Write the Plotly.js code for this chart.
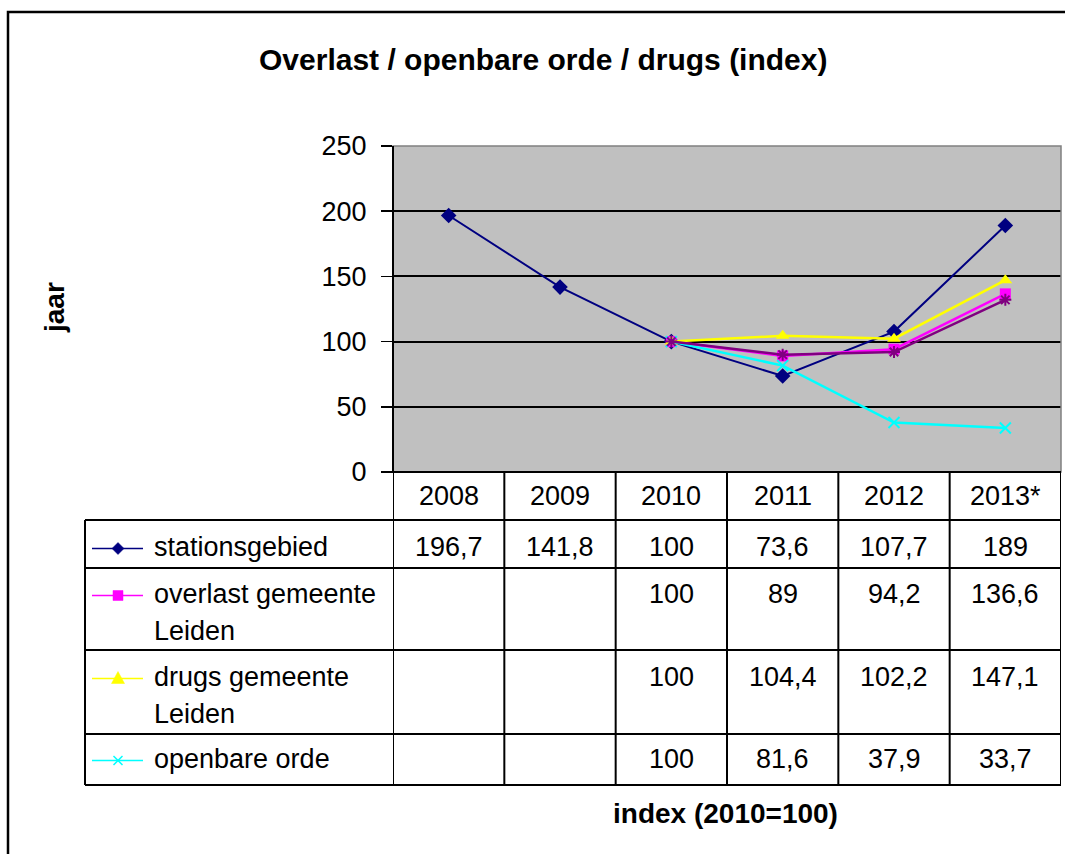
<!DOCTYPE html>
<html>
<head>
<meta charset="utf-8">
<script src="https://cdn.plot.ly/plotly-3.0.1.min.js"></script>
<style>html,body{margin:0;padding:0;background:#fff;}#chart{width:1065px;height:854px;}</style>
</head>
<body>
<div id="chart"></div>
<script>
// ---- data ----
const years = ['2008', '2009', '2010', '2011', '2012', '2013*'];
const stationsgebied = [196.7, 141.8, 100, 73.6, 107.7, 189];
const overlastGemeenteLeiden = [null, null, 100, 89, 94.2, 136.6];
const drugsGemeenteLeiden = [null, null, 100, 104.4, 102.2, 147.1];
const openbareOrde = [null, null, 100, 81.6, 37.9, 33.7];
const extraSeries = [null, null, 100, 90, 92, 132]; // purple series drawn in plot, not in table
const seriesNames = ['stationsgebied', 'overlast gemeente\nLeiden', 'drugs gemeente\nLeiden', 'openbare orde'];
const yTicks = [0, 50, 100, 150, 200, 250];

// ---- geometry helpers (pixels -> paper) ----
const W = 1065, H = 854;
const X = p => p / W;
const Y = p => 1 - p / H;
const FONT = 'Liberation Sans, Arial, sans-serif';

const plotL = 393, plotR = 1061, plotT = 146, plotB = 472;
const tableL = 85, headerB = 520;
const rowTops = [520, 568, 650, 734];
const rowBots = [568, 650, 734, 785];
const rowLine1 = [547, 594, 677, 759];
const lineGap = 36.5;

const styles = [
  {color: '#000080', symbol: 'diamond', size: 12, lw: 2},
  {color: '#FF00FF', symbol: 'square', size: 11, lw: 2.5},
  {color: '#FFFF00', symbol: 'triangle-up', size: 12, lw: 2.5},
  {color: '#00FFFF', symbol: 'x-thin-open', size: 11, lw: 2.5}
];
const seriesData = [stationsgebied, overlastGemeenteLeiden, drugsGemeenteLeiden, openbareOrde];

const traces = seriesData.map((d, i) => ({
  type: 'scatter', mode: 'lines+markers', x: years, y: d,
  name: seriesNames[i].replace('\n', ' '),
  line: {color: styles[i].color, width: styles[i].lw},
  marker: {symbol: styles[i].symbol, size: styles[i].size, color: styles[i].color,
           line: {color: styles[i].color, width: styles[i].symbol.indexOf('open') >= 0 ? 2 : 0}},
  showlegend: false, hoverinfo: 'x+y'
}));
traces.push({
  type: 'scatter', mode: 'lines+markers', x: years, y: extraSeries, name: 'extra',
  line: {color: '#800080', width: 2.5},
  marker: {symbol: 'asterisk-open', size: 10, color: '#800080', line: {color: '#800080', width: 2}},
  showlegend: false
});

// ---- shapes ----
const shapes = [];
const blk = {color: '#000', width: 2};
// outer frame
shapes.push({type: 'rect', xref: 'paper', yref: 'paper', x0: X(8), x1: X(1075), y0: Y(870), y1: Y(12),
  line: {color: '#000', width: 2.5}, fillcolor: 'rgba(0,0,0,0)'});
// plot area border (gray)
shapes.push({type: 'rect', xref: 'paper', yref: 'paper', x0: X(plotL), x1: X(plotR), y0: Y(plotB), y1: Y(plotT),
  line: {color: '#808080', width: 1.5}, fillcolor: 'rgba(0,0,0,0)', layer: 'above'});
// y axis line
shapes.push({type: 'line', xref: 'paper', yref: 'paper', x0: X(plotL), x1: X(plotL), y0: Y(plotB), y1: Y(plotT), line: blk});
// table horizontal lines
shapes.push({type: 'line', xref: 'paper', yref: 'paper', x0: X(382), x1: X(plotR), y0: Y(plotB), y1: Y(plotB), line: blk});
[headerB].concat(rowBots).forEach(yy => {
  shapes.push({type: 'line', xref: 'paper', yref: 'paper', x0: X(tableL), x1: X(plotR), y0: Y(yy), y1: Y(yy), line: blk});
});
// table vertical lines: column boundaries from the category axis
for (let k = 0; k <= years.length; k++) {
  shapes.push({type: 'line', xref: 'x', yref: 'paper', x0: k - 0.5, x1: k - 0.5, y0: Y(plotB), y1: Y(785), line: blk});
}
shapes.push({type: 'line', xref: 'paper', yref: 'paper', x0: X(tableL), x1: X(tableL), y0: Y(headerB), y1: Y(785), line: blk});

// legend samples
const pathPx = pts => 'M' + pts.map(p => X(p[0]) + ',' + Y(p[1])).join(' L') + ' Z';
const mx = 118;
styles.forEach((s, i) => {
  const cy = rowLine1[i] + 1.5;
  shapes.push({type: 'line', xref: 'paper', yref: 'paper', x0: X(92), x1: X(143), y0: Y(cy), y1: Y(cy),
    line: {color: s.color, width: 1.5}});
  let p;
  if (s.symbol === 'diamond') {
    const h = 6;
    p = pathPx([[mx, cy - h], [mx + h, cy], [mx, cy + h], [mx - h, cy]]);
    shapes.push({type: 'path', xref: 'paper', yref: 'paper', path: p, fillcolor: s.color, line: {color: s.color, width: 0.5}});
  } else if (s.symbol === 'square') {
    const h = 5;
    p = pathPx([[mx - h, cy - h], [mx + h, cy - h], [mx + h, cy + h], [mx - h, cy + h]]);
    shapes.push({type: 'path', xref: 'paper', yref: 'paper', path: p, fillcolor: s.color, line: {color: s.color, width: 0.5}});
  } else if (s.symbol === 'triangle-up') {
    p = pathPx([[mx, cy - 7], [mx + 6.5, cy + 5], [mx - 6.5, cy + 5]]);
    shapes.push({type: 'path', xref: 'paper', yref: 'paper', path: p, fillcolor: s.color, line: {color: s.color, width: 0.5}});
  } else {
    const h = 4.5;
    shapes.push({type: 'line', xref: 'paper', yref: 'paper', x0: X(mx - h), x1: X(mx + h), y0: Y(cy - h), y1: Y(cy + h), line: {color: s.color, width: 1.5}});
    shapes.push({type: 'line', xref: 'paper', yref: 'paper', x0: X(mx - h), x1: X(mx + h), y0: Y(cy + h), y1: Y(cy - h), line: {color: s.color, width: 1.5}});
  }
});

// ---- annotations ----
const ann = [];
const txt = (text, x, y, opts) => Object.assign({text: text, x: x, y: y, xref: 'paper', yref: 'paper',
  showarrow: false, xanchor: 'center', yanchor: 'middle', font: {family: FONT, size: 27, color: '#000'}}, opts || {});
ann.push(txt('<b>Overlast / openbare orde / drugs (index)</b>', X(543), Y(60), {font: {family: FONT, size: 30, color: '#000'}}));
ann.push(txt('<b>jaar</b>', X(55), Y(308), {textangle: -90, font: {family: FONT, size: 28, color: '#000'}}));
ann.push(txt('<b>index (2010=100)</b>', X(725), Y(813), {font: {family: FONT, size: 28, color: '#000'}}));
// header row (category index positions on the x axis)
years.forEach((yr, k) => ann.push(txt(yr, k, Y(496), {xref: 'x'})));
// legend labels and values
seriesNames.forEach((nm, i) => {
  nm.split('\n').forEach((ln, j) => {
    ann.push(txt(ln, X(152), Y(rowLine1[i] + j * lineGap), {xanchor: 'left'}));
  });
  seriesData[i].forEach((v, k) => {
    if (v === null) return;
    ann.push(txt(String(v).replace('.', ','), k, Y(rowLine1[i]), {xref: 'x'}));
  });
});

const layout = {
  width: W, height: H,
  margin: {l: 0, r: 0, t: 0, b: 0},
  paper_bgcolor: '#fff', plot_bgcolor: '#C0C0C0',
  font: {family: FONT, size: 27, color: '#000'},
  showlegend: false,
  xaxis: {type: 'category', domain: [X(plotL), X(plotR)], range: [-0.5, 5.5],
    showticklabels: false, showgrid: false, zeroline: false, ticks: '', showline: false, fixedrange: true},
  yaxis: {domain: [Y(plotB), Y(plotT)], range: [0, 250], tickvals: yTicks,
    showgrid: true, gridcolor: '#000', gridwidth: 1.8, zeroline: false,
    ticks: 'outside', ticklen: 11, tickwidth: 1.5, tickcolor: '#000',
    showline: false, tickfont: {family: FONT, size: 27, color: '#000'}, ticklabelstandoff: 9, fixedrange: true},
  shapes: shapes,
  annotations: ann
};

Plotly.newPlot('chart', traces, layout, {displayModeBar: false, staticPlot: true});
</script>
</body>
</html>
